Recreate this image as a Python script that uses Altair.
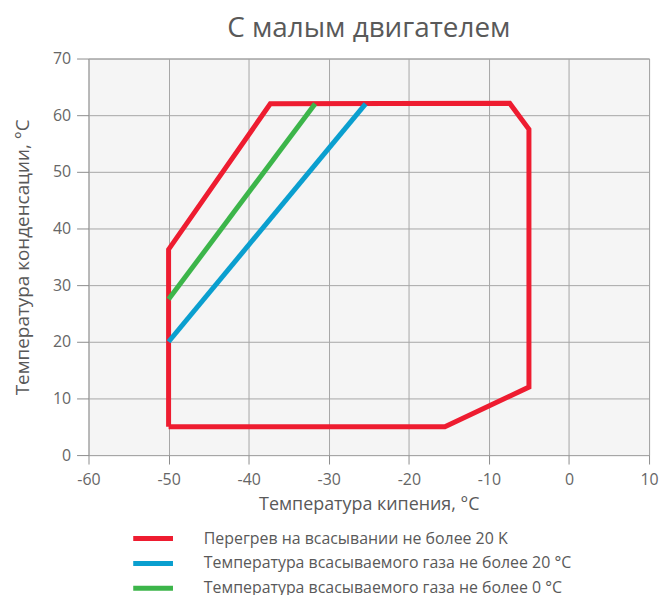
import altair as alt
import pandas as pd

series_names = [
    "Перегрев на всасывании не более 20 K",
    "Температура всасываемого газа не более 20 °C",
    "Температура всасываемого газа не более 0 °C",
]
series_colors = ["#ee1c30", "#0a9fcf", "#3cb54a"]

red_x = [-50, -50, -37.3, -7.4, -5, -5, -15.5, -50]
red_y = [5, 36.3, 62, 62.1, 57.5, 12, 5, 5]
blue_x = [-50, -25.4]
blue_y = [20, 62]
green_x = [-50, -31.7]
green_y = [27.5, 62]

rows = []
for name, xs, ys in [(series_names[0], red_x, red_y),
                     (series_names[1], blue_x, blue_y),
                     (series_names[2], green_x, green_y)]:
    for i, (xv, yv) in enumerate(zip(xs, ys)):
        rows.append({"series": name, "x": xv, "y": yv, "order": i})
df = pd.DataFrame(rows)

font = "Open Sans"
gray_text = "#595959"

chart = alt.Chart(df).mark_line(strokeWidth=5, strokeJoin="miter", strokeCap="butt").encode(
    x=alt.X("x:Q", scale=alt.Scale(domain=[-60, 10], nice=False),
            axis=alt.Axis(title="Температура кипения, °C", values=list(range(-60, 11, 10)),
                          labelExpr="datum.value", titleFontSize=18, labelFlush=False,
                          grid=True, tickSize=9, labelPadding=8, titlePadding=8)),
    y=alt.Y("y:Q", scale=alt.Scale(domain=[0, 70], nice=False),
            axis=alt.Axis(title="Температура конденсации, °C", values=list(range(0, 71, 10)),
                          labelExpr="datum.value", titleFontSize=19, labelFlush=False,
                          grid=True, tickSize=12, labelPadding=6, titlePadding=20)),
    color=alt.Color("series:N", scale=alt.Scale(domain=series_names, range=series_colors),
                    legend=alt.Legend(title=None, orient="none", legendX=57, legendY=475,
                                      direction="vertical", symbolType="M-4,0H4",
                                      symbolSize=100, symbolStrokeWidth=5,
                                      labelFontSize=16, labelColor=gray_text, labelFont=font,
                                      labelOffset=43, rowPadding=5, labelLimit=600)),
    detail="series:N",
    order="order:Q",
).properties(
    width=564, height=399,
    padding={"left": 5, "top": 5, "right": 0, "bottom": 5},
    title=alt.TitleParams("С малым двигателем", fontSize=28, font=font, color=gray_text,
                          fontWeight="normal", offset=8),
).configure_view(
    fill="#f5f5f5", stroke="#999999", strokeWidth=1
).configure_axis(
    gridColor="#a6a6a6", gridWidth=1, domain=False, tickColor="#8c8c8c",
    labelFont=font, labelFontSize=16, labelColor="#666666",
    titleFont=font, titleColor=gray_text, titleFontWeight="normal",
)

chart.save("out.html", embed_options={"renderer": "svg", "actions": False})
